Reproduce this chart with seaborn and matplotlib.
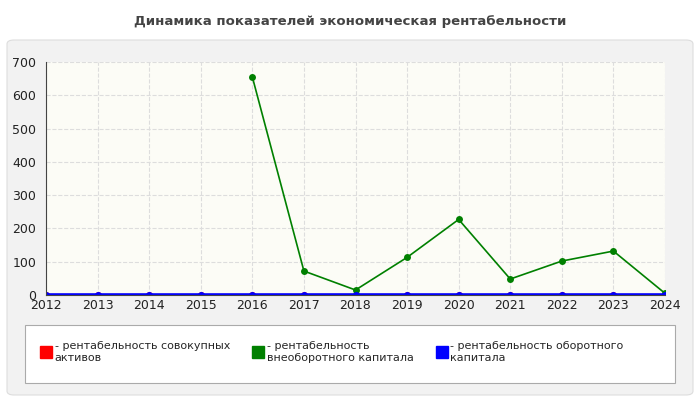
import matplotlib as mpl
mpl.use('Agg')
import matplotlib.pyplot as plt
from matplotlib.patches import FancyBboxPatch, Rectangle
from matplotlib.lines import Line2D
import seaborn as sb
import pandas as pd
import numpy as np

years = list(range(2012, 2025))
assets = [0] * 13
noncurrent = [np.nan, np.nan, np.nan, np.nan, 655, 72, 15, 113, 227, 48, 102, 132, 5]
current = [0] * 13
labels = ['рентабельность совокупных\nактивов',
          'рентабельность\nвнеоборотного капитала',
          'рентабельность оборотного\nкапитала']
colors = ['#ff0000', '#008000', '#0000ff']

sb.set_theme(style="white")
plt.rcParams['font.family'] = ['DejaVu Sans']

fig = plt.figure(figsize=(7, 4), dpi=100)
fig.patch.set_facecolor('white')
fig.patches.append(FancyBboxPatch((7 / 700, 5 / 400), 686 / 700, 355 / 400,
                                  boxstyle="round,pad=0,rounding_size=0.01",
                                  transform=fig.transFigure, facecolor='#f2f2f2',
                                  edgecolor='#dddddd', lw=0.8, zorder=-10))
fig.patches.append(Rectangle((25 / 700, 17 / 400), 650 / 700, 58 / 400,
                             transform=fig.transFigure, facecolor='white',
                             edgecolor='#aaaaaa', lw=0.8, zorder=-5))
fig.text(0.5, 0.947, 'Динамика показателей экономическая рентабельности',
         ha='center', va='center', fontsize=9.5, fontweight='bold', color='#444444')

ax = fig.add_axes([46 / 700, 105 / 400, 619 / 700, 233 / 400])
ax.set_facecolor('#fcfcf6')
df = pd.DataFrame({'year': years * 3,
                   'value': assets + noncurrent + current,
                   'series': [labels[0]] * 13 + [labels[1]] * 13 + [labels[2]] * 13})
for lab, c, lw in zip(labels, colors, [1.5, 1.2, 2.6]):
    d = df[df['series'] == lab]
    sb.lineplot(data=d, x='year', y='value', color=c, lw=lw, marker='o',
                markersize=5, markeredgewidth=0, ax=ax, legend=False)
ax.set_xlim(2012, 2024)
ax.set_ylim(0, 700)
ax.set_xticks(years)
ax.set_yticks(range(0, 701, 100))
ax.tick_params(labelsize=9, colors='#222222', length=0, pad=3)
ax.tick_params(axis='y', pad=7)
ax.grid(True, color='#dddddd', ls='--', lw=0.8)
ax.set_xlabel('')
ax.set_ylabel('')
for s in ['top', 'right']:
    ax.spines[s].set_visible(False)
for s in ['left', 'bottom']:
    ax.spines[s].set_color('#444444')
    ax.spines[s].set_linewidth(0.8)

handles = [Line2D([], [], color=c, marker='s', ls='', markersize=8) for c in colors]
fig.legend(handles, ['- ' + l for l in labels], ncol=3, loc='center left',
           bbox_to_anchor=(28 / 700, 48 / 400), frameon=False, fontsize=8,
           handletextpad=0.0, handlelength=1.5, columnspacing=1.8, labelspacing=0)
fig.savefig('out.png', dpi=100)
